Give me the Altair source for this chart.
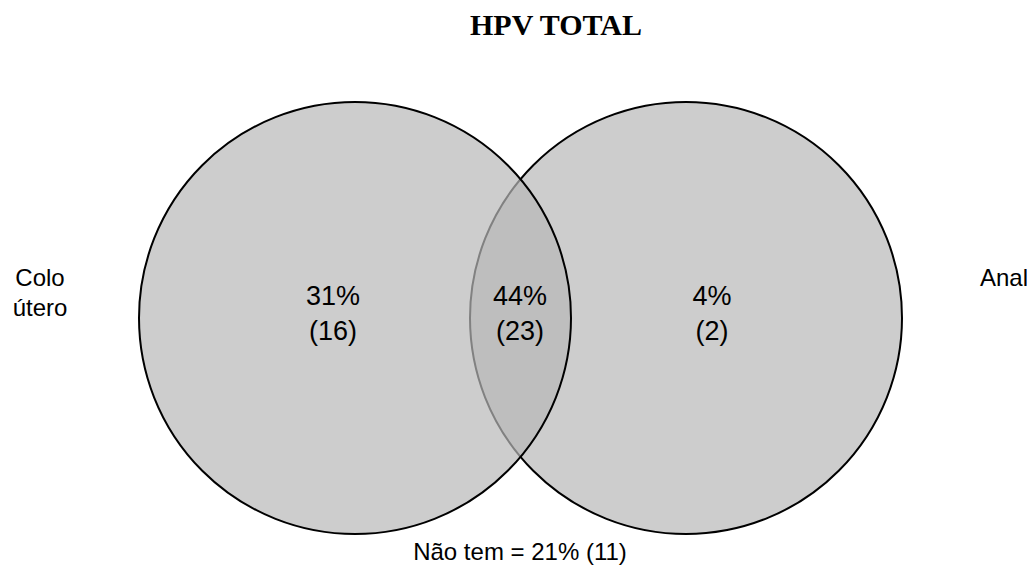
import altair as alt
import pandas as pd

# ---- data ----
set_names = ["Colo útero", "Anal"]
circle_cx = [355, 686]
circle_cy = [318, 318]

region_pct = ["31%", "44%", "4%"]
region_n = ["(16)", "(23)", "(2)"]
region_x = [333, 520, 712]

side_lines = ["Colo", "útero", "Anal"]
side_x = [40, 40, 1004]
side_y = [286, 316, 286]

title_text = "HPV TOTAL"
none_label = "Não tem = 21% (11)"

W, H = 1019, 563
xs = alt.Scale(domain=[8, 8 + W])
ys = alt.Scale(domain=[8 + H, 8])

circles = pd.DataFrame({"set": set_names, "cx": circle_cx, "cy": circle_cy})
regions = pd.DataFrame({"pct": region_pct, "n": region_n, "x": region_x})
sides = pd.DataFrame({"t": side_lines, "x": side_x, "y": side_y})
misc = pd.DataFrame({"t": [title_text, none_label], "x": [556, 520], "y": [35, 560],
                     "kind": ["title", "none"]})

R = 216
SIZE = 4 * R * R  # Vega circle symbol: radius = sqrt(size) / 2

base_c = alt.Chart(circles).encode(
    x=alt.X("cx:Q", scale=xs, axis=None),
    y=alt.Y("cy:Q", scale=ys, axis=None),
)

right = base_c.transform_filter(alt.datum.set == "Anal").mark_circle(
    fill="#cdcdcd", fillOpacity=1, opacity=1, stroke="black", strokeWidth=2
).encode(size=alt.value(SIZE))

left = base_c.transform_filter(alt.datum.set == "Colo útero").mark_circle(
    fill="#b8b8b8", fillOpacity=0.7, opacity=1, stroke="black", strokeOpacity=1, strokeWidth=2
).encode(size=alt.value(SIZE))

pct = alt.Chart(regions).mark_text(
    font="Liberation Sans", fontSize=27, baseline="alphabetic", align="center", color="black"
).encode(x=alt.X("x:Q", scale=xs, axis=None), y=alt.value(305 - 8), text="pct:N")

cnt = alt.Chart(regions).mark_text(
    font="Liberation Sans", fontSize=27, baseline="alphabetic", align="center", color="black"
).encode(x=alt.X("x:Q", scale=xs, axis=None), y=alt.value(340 - 8), text="n:N")

side = alt.Chart(sides).mark_text(
    font="Liberation Sans", fontSize=24, baseline="alphabetic", align="center", color="black"
).encode(x=alt.X("x:Q", scale=xs, axis=None), y=alt.Y("y:Q", scale=ys, axis=None), text="t:N")

title = alt.Chart(misc).transform_filter(alt.datum.kind == "title").mark_text(
    font="Liberation Serif", fontSize=30, fontWeight="bold",
    baseline="alphabetic", align="center", color="black"
).encode(x=alt.X("x:Q", scale=xs, axis=None), y=alt.Y("y:Q", scale=ys, axis=None), text="t:N")

none_t = alt.Chart(misc).transform_filter(alt.datum.kind == "none").mark_text(
    font="Liberation Sans", fontSize=24,
    baseline="alphabetic", align="center", color="black"
).encode(x=alt.X("x:Q", scale=xs, axis=None), y=alt.Y("y:Q", scale=ys, axis=None), text="t:N")

chart = alt.layer(right, left, pct, cnt, side, title, none_t).properties(
    width=W, height=H, padding=0, autosize=alt.AutoSizeParams(type="none"),
    background="white"
).configure_view(strokeWidth=0)

chart.save("out.html", embed_options={"renderer": "svg", "actions": False})
